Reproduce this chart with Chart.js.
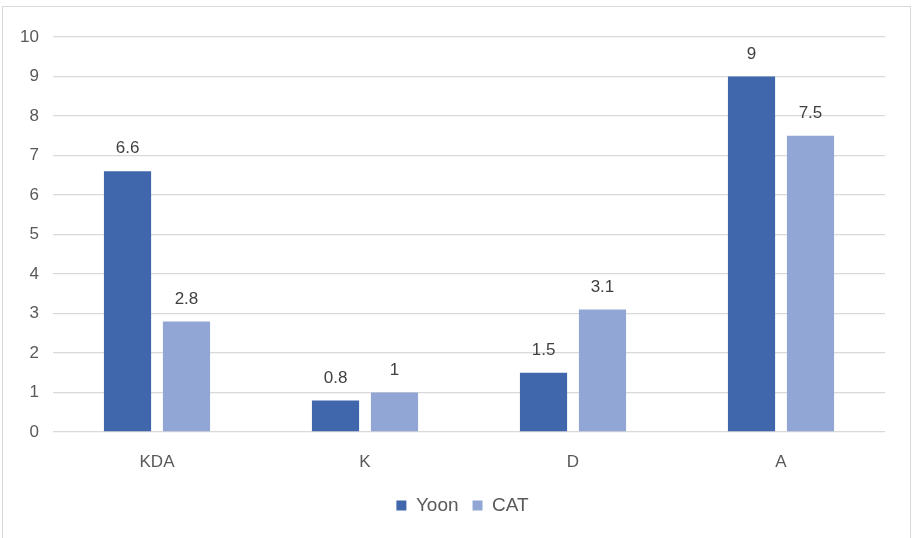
<!DOCTYPE html>
<html>
<head>
<meta charset="utf-8">
<script src="https://cdn.jsdelivr.net/npm/chart.js@4/dist/chart.umd.min.js"></script>
<style>
  html, body { margin: 0; padding: 0; background: #fff; }
  #wrap { position: relative; width: 914px; height: 538px; overflow: hidden; }
  #frame { position: absolute; left: 2px; top: 6px; width: 909px; height: 540px; border: 1.5px solid #D9D9D9; box-sizing: border-box; }
  canvas { position: absolute; left: 0; top: 0; }
</style>
</head>
<body>
<div id="wrap">
  <div id="frame"></div>
  <canvas id="c" width="914" height="538"></canvas>
</div>
<script>
const categories = ["KDA", "K", "D", "A"];
const yoonValues = [6.6, 0.8, 1.5, 9];
const catValues = [2.8, 1, 3.1, 7.5];
const seriesNames = ["Yoon", "CAT"];

const FONT = "'Liberation Sans', Arial, sans-serif";

const dataLabels = {
  id: 'dataLabels',
  afterDatasetsDraw(chart) {
    const ctx = chart.ctx;
    ctx.save();
    ctx.font = "17px " + FONT;
    ctx.fillStyle = "#404040";
    ctx.textAlign = "center";
    ctx.textBaseline = "bottom";
    chart.data.datasets.forEach((ds, i) => {
      const meta = chart.getDatasetMeta(i);
      meta.data.forEach((bar, j) => {
        ctx.fillText(String(ds.data[j]), bar.x, bar.y - 14);
      });
    });
    ctx.restore();
  }
};

// centre the legend row on the full frame rather than on the padded area
const legendShift = {
  id: 'legendShift',
  afterLayout(chart) {
    if (chart.legend) {
      chart.legend.right += 40;
      chart.legend.width += 40;
    }
  }
};

new Chart(document.getElementById('c'), {
  type: 'bar',
  data: {
    labels: categories,
    datasets: [
      { label: seriesNames[0], data: yoonValues, backgroundColor: '#4067AB',
        categoryPercentage: 0.567, barPercentage: 0.8 },
      { label: seriesNames[1], data: catValues, backgroundColor: '#91A6D4',
        categoryPercentage: 0.567, barPercentage: 0.8 }
    ]
  },
  options: {
    responsive: false,
    animation: false,
    layout: { padding: { left: 0, top: 37, right: 29, bottom: 13 } },
    plugins: {
      tooltip: { enabled: false },
      legend: {
        position: 'bottom',
        labels: {
          usePointStyle: true,
          pointStyle: 'rect',
          boxWidth: 10,
          boxHeight: 10,
          padding: 14,
          color: '#595959',
          font: { family: FONT, size: 19 }
        }
      }
    },
    scales: {
      x: {
        grid: { display: false, drawTicks: false },
        border: { display: false },
        ticks: { color: '#595959', font: { family: FONT, size: 17 }, padding: 20 },
        afterFit(scale) { scale.height = 50; }
      },
      y: {
        min: 0, max: 10,
        grid: { color: '#D9D9D9', lineWidth: 1.3, drawTicks: false },
        border: { display: false },
        ticks: { stepSize: 1, color: '#595959', font: { family: FONT, size: 17 }, padding: 14 },
        afterFit(scale) { scale.width = 53; }
      }
    }
  },
  plugins: [dataLabels, legendShift]
});
</script>
</body>
</html>
